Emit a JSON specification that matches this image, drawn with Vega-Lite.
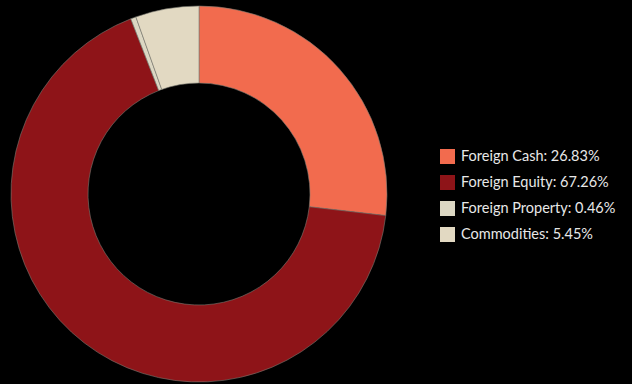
{
  "$schema": "https://vega.github.io/schema/vega-lite/v6.json",
  "width": 398,
  "height": 388,
  "padding": {"left": 0, "top": 0, "right": 234, "bottom": 0},
  "autosize": {"type": "none"},
  "background": "#000000",
  "view": {"stroke": null},
  "data": {"values": [
    {"label": "Foreign Cash: 26.83%", "value": 26.83, "order": 1},
    {"label": "Foreign Equity: 67.26%", "value": 67.26, "order": 2},
    {"label": "Foreign Property: 0.46%", "value": 0.46, "order": 3},
    {"label": "Commodities: 5.45%", "value": 5.45, "order": 4}
  ]},
  "mark": {"type": "arc", "outerRadius": 188, "innerRadius": 111, "stroke": "#7a7a72", "strokeWidth": 0.6},
  "encoding": {
    "theta": {"field": "value", "type": "quantitative", "stack": true},
    "order": {"field": "order", "type": "quantitative"},
    "color": {
      "field": "label", "type": "nominal",
      "sort": ["Foreign Cash: 26.83%", "Foreign Equity: 67.26%", "Foreign Property: 0.46%", "Commodities: 5.45%"],
      "scale": {"domain": ["Foreign Cash: 26.83%", "Foreign Equity: 67.26%", "Foreign Property: 0.46%", "Commodities: 5.45%"],
                "range": ["#F26B4E", "#8E1418", "#DCD7C3", "#E2D9C2"]},
      "legend": {
        "title": null,
        "orient": "none",
        "legendX": 440,
        "legendY": 149,
        "symbolType": "square",
        "symbolSize": 225,
        "symbolStrokeWidth": 0,
        "labelColor": "#e8e8e8",
        "labelFont": "Lato",
        "labelFontSize": 14.5,
        "labelOffset": 6,
        "rowPadding": 10,
        "labelLimit": 300
      }
    }
  }
}
